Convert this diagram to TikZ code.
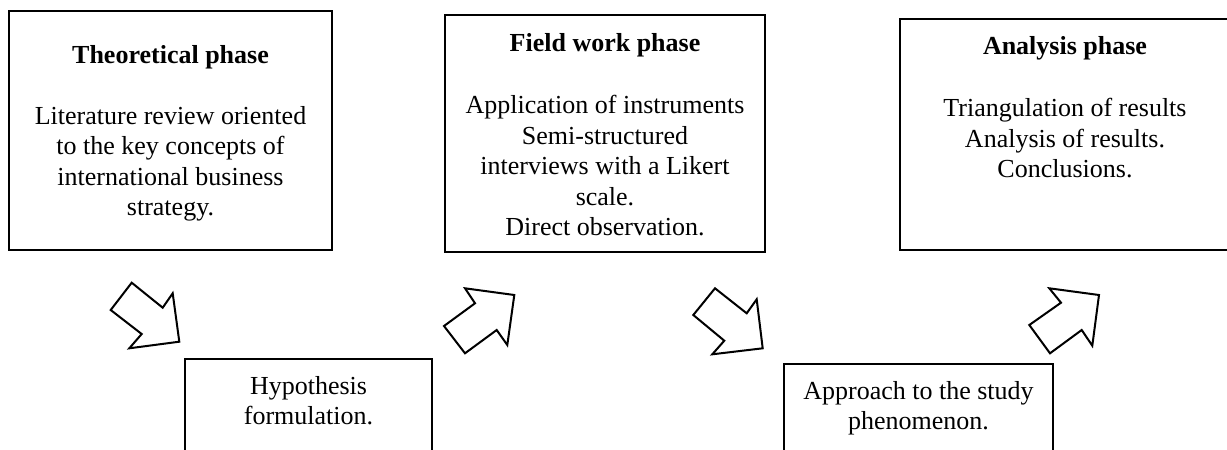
\documentclass[tikz,border=0pt]{standalone}
\usepackage{fontspec}
\setmainfont{Liberation Serif}
\begin{document}
\begin{tikzpicture}[x=1pt,y=-1pt,
  phasebox/.style={draw, line width=2pt, inner sep=0pt},
  blockarrow/.style={draw, line width=2pt, line join=miter, fill=white},
  title/.style={anchor=base, inner sep=0pt, font=\fontsize{26}{30.5}\selectfont\bfseries},
  body/.style={anchor=north, align=center, inner sep=0pt, font=\fontsize{26}{30.5}\selectfont},
]
\useasboundingbox (0,0) rectangle (1227,450);
\clip (0,0) rectangle (1227,450);

% phase boxes (the last one runs past the right edge, the lower ones past the bottom)
\node[phasebox, minimum width=323pt, minimum height=239pt] (theo) at (170.5,130.5) {};
\node[phasebox, minimum width=320pt, minimum height=237pt] (field) at (605,133.5) {};
\node[phasebox, minimum width=332pt, minimum height=231pt] (anal) at (1066,134.5) {};
\node[phasebox, minimum width=247pt, minimum height=140pt] (hypo) at (308.5,429) {};
\node[phasebox, minimum width=269pt, minimum height=140pt] (appr) at (918.5,434) {};

% titles
\node[title] (theoT) at (170.5,63) {Theoretical phase};
\node[title] (fieldT) at (605,51) {Field work phase};
\node[title] (analT) at (1065,54) {Analysis phase};

% box contents
\node[body] (theoB) at (170.5,106) {Literature review oriented\\to the key concepts of\\international business\\strategy.};
\node[body] (fieldB) at (605,95) {Application of instruments\\Semi-structured\\interviews with a Likert\\scale.\\Direct observation.};
\node[body] (analB) at (1065,98) {Triangulation of results\\Analysis of results.\\Conclusions.};
\node[body] (hypoB) at (308.5,376) {Hypothesis\\formulation.};
\node[body] (apprB) at (918.5,381) {Approach to the study\\phenomenon.};

% block arrows between the phases
\draw[blockarrow] (110.7,310) -- (131.7,282.7) -- (162.7,307.7) -- (172.7,293.3)
  -- (179.3,341.7) -- (129.3,348.3) -- (141.7,334) -- cycle;
\draw[blockarrow] (444,326) -- (465,353.3) -- (496.7,330) -- (507.3,345)
  -- (514.3,295) -- (465,288.3) -- (475,303.3) -- cycle;
\draw[blockarrow] (693.3,315) -- (715,288.3) -- (746.7,313.3) -- (756.7,299.3)
  -- (762.7,348.3) -- (712.3,354.3) -- (724.3,340.7) -- cycle;
\draw[blockarrow] (1029.3,325) -- (1050,353.3) -- (1081.7,330) -- (1092.3,345.7)
  -- (1099,295) -- (1049.3,288.3) -- (1061,302.7) -- cycle;
\end{tikzpicture}
\end{document}
